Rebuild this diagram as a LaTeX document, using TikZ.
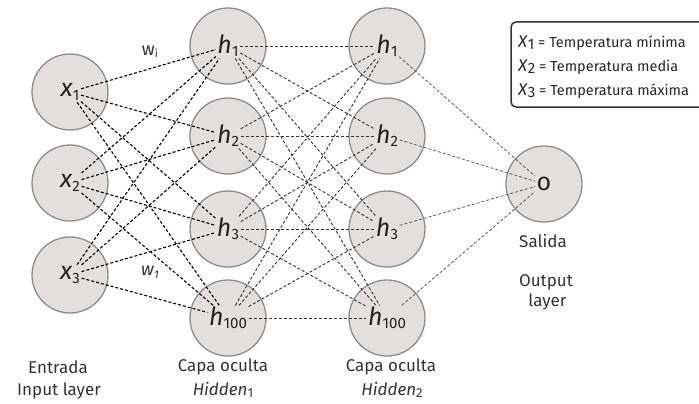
\documentclass[tikz,border=0pt]{standalone}
\usepackage{fontspec}
\setmainfont{Fira Sans}
\definecolor{nfill}{HTML}{E3DFDF}
\definecolor{nline}{HTML}{8C8C8C}
\definecolor{txt}{HTML}{222222}
\newcommand\lsub[2]{\raisebox{-#2}{\fontsize{15}{15}\selectfont #1}}
\begin{document}
\begin{tikzpicture}[x=1pt,y=-1pt,
  neuron/.style={circle,minimum size=76pt,inner sep=0pt,fill=nfill,draw=nline,line width=1.3pt},
  conA/.style={dashed,dash pattern=on 3pt off 2pt,line width=1.1pt,black},
  conB/.style={dashed,dash pattern=on 3pt off 2pt,line width=0.9pt,black!80},
  conC/.style={dashed,dash pattern=on 3pt off 2pt,line width=0.8pt,black!65},
  nlabel/.style={font=\fontsize{25}{25}\selectfont,text=txt,inner sep=1.5pt},
  captext/.style={font=\fontsize{17}{21}\selectfont,text=black!80,align=center,inner sep=0pt},
  legtext/.style={font=\fontsize{14.5}{17}\selectfont,text=black!85,anchor=west,inner sep=0pt}]
\useasboundingbox (0,0) rectangle (699,404);
\fill[white] (0,0) rectangle (699,404);
% neurons
\node[neuron] (x1) at (70,92) {};
\node[neuron] (x2) at (70,183) {};
\node[neuron] (x3) at (70,275) {};
\node[neuron] (a1) at (228,46) {};
\node[neuron] (a2) at (228,136) {};
\node[neuron] (a3) at (228,229) {};
\node[neuron] (a4) at (228,318) {};
\node[neuron] (b1) at (387,46) {};
\node[neuron] (b2) at (387,136) {};
\node[neuron] (b3) at (387,229) {};
\node[neuron] (b4) at (387,318) {};
\node[neuron] (o) at (544,184) {};
% labels
\node[nlabel] (x1l) at (x1) {\textit{x}\lsub{1}{4pt}};
\node[nlabel] (x2l) at (x2) {\textit{x}\lsub{2}{4pt}};
\node[nlabel] (x3l) at (x3) {\textit{x}\lsub{3}{4pt}};
\foreach \n in {a,b}{
  \node[nlabel] (\n1l) at (\n1) {\textit{h}\lsub{1}{3pt}};
  \node[nlabel] (\n2l) at (\n2) {\textit{h}\lsub{2}{3pt}};
  \node[nlabel] (\n3l) at (\n3) {\textit{h}\lsub{3}{3pt}};
  \node[nlabel] (\n4l) at (\n4) {\textit{h}\lsub{100}{3pt}};
}
\node[nlabel] (ol) at (o) {o};
% connections
\foreach \i in {x1l,x2l,x3l}{\foreach \j in {a1l,a2l,a3l,a4l}{\draw[conA] (\i) -- (\j);}}
\foreach \i in {a1l,a2l,a3l,a4l}{\foreach \j in {b1l,b2l,b3l,b4l}{\draw[conB] (\i) -- (\j);}}
\foreach \i in {b1l,b2l,b3l,b4l}{\draw[conC] (\i) -- (ol);}
\node[font=\fontsize{18}{18}\selectfont,text=black!80,inner sep=0pt] (wi) at (150,52) {w\raisebox{-2pt}{\fontsize{11}{11}\selectfont i}};
\node[font=\fontsize{18}{18}\selectfont,text=black!80,inner sep=0pt] (w1) at (150,272) {\textit{w}\raisebox{-3pt}{\fontsize{11}{11}\selectfont\textit{1}}};
% captions
\node[captext] (c0) at (58,367) {Entrada};
\node[captext] (c0b) at (59,391) {Input layer};
\node[captext] (c1) at (223,367) {Capa oculta};
\node[captext] (c1b) at (223,390) {\textit{Hidden}\raisebox{-2pt}{\fontsize{13}{13}\selectfont 1}};
\node[captext] (c2) at (391,367) {Capa oculta};
\node[captext] (c2b) at (392,390) {\textit{Hidden}\raisebox{-2pt}{\fontsize{13}{13}\selectfont 2}};
\node[captext] (c3) at (543,241) {Salida};
\node[captext] (c3b) at (546,292) {Output\\[-1pt]\,layer};
% legend
\draw[black!80,line width=1.5pt,rounded corners=5pt] (511,22) rectangle (720,107);
\node[legtext] (l1) at (518,43) {{\fontsize{17}{17}\selectfont\textit{X}}\lsub{1}{2pt} = Temperatura mínima};
\node[legtext] (l2) at (518,67) {{\fontsize{17}{17}\selectfont\textit{X}}\lsub{2}{2pt} = Temperatura media};
\node[legtext] (l3) at (518,91) {{\fontsize{17}{17}\selectfont\textit{X}}\lsub{3}{2pt} = Temperatura máxima};
\end{tikzpicture}
\end{document}
